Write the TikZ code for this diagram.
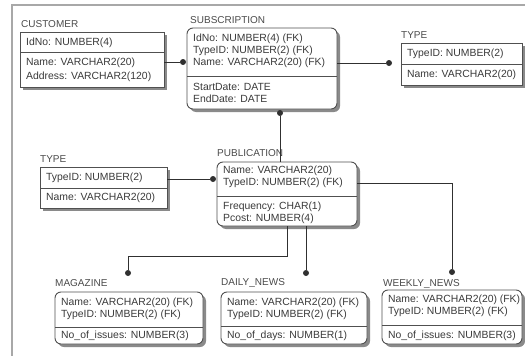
\documentclass[tikz,border=0pt]{standalone}
\usepackage{fontspec}
\usetikzlibrary{shadows}
\newfontfamily\ermfont{Liberation Sans}
\newcommand\fldfont{\ermfont\fontsize{10.4}{12}\selectfont}
\newcommand\ttlfont{\ermfont\fontsize{10}{12}\selectfont}
\definecolor{txtcol}{HTML}{3A3A3A}
\definecolor{labcol}{HTML}{4A4A4A}
\definecolor{boxcol}{HTML}{505050}
\definecolor{shadowcol}{HTML}{8A8A8A}
\definecolor{linecol}{HTML}{303030}
\definecolor{framecol}{HTML}{A8A8A8}
\tikzset{
  ent/.style={draw=boxcol, line width=0.9pt, fill=white, inner sep=0pt, outer sep=0pt,
    anchor=north west,
    drop shadow={shadow xshift=3pt, shadow yshift=-3pt, fill=shadowcol, opacity=1}},
  rent/.style={ent, rounded corners=6pt},
  ttl/.style={anchor=west, inner sep=0pt, text=labcol, font=\ttlfont},
  fld/.style={anchor=west, inner sep=0pt, text=txtcol, font=\fldfont},
  divl/.style={draw=boxcol, line width=0.8pt},
  conn/.style={draw=linecol, line width=0.8pt},
  dotmark/.style={circle, fill=linecol, inner sep=0pt, minimum size=6pt},
  framel/.style={draw=framecol, line width=1.2pt}
}
\begin{document}
\begin{tikzpicture}[x=1pt, y=-1pt]
\useasboundingbox (0,0) rectangle (525,356);
% outer frame
\draw[framel] (525,5) -- (12,5) -- (12,356);

% CUSTOMER
\node[ttl] (cust-t) at (21,24) {CUSTOMER};
\node[ent, minimum width=144pt, minimum height=55pt] (cust) at (20,32) {};
\draw[divl] (cust.west |- 0,52) -- (cust.east |- 0,52);
\node[fld] (cust-1) at (26,43) {IdNo: NUMBER(4)};
\node[fld] (cust-2) at (26,63) {Name: VARCHAR2(20)};
\node[fld] (cust-3) at (26,77) {Address: VARCHAR2(120)};

% SUBSCRIPTION
\node[ttl] (sub-t) at (190,20) {SUBSCRIPTION};
\node[rent, minimum width=150pt, minimum height=81pt] (sub) at (187,28) {};
\draw[divl] (sub.west |- 0,76) -- (sub.east |- 0,76);
\node[fld] (sub-1) at (193,39) {IdNo: NUMBER(4) (FK)};
\node[fld] (sub-2) at (193,51) {TypeID: NUMBER(2) (FK)};
\node[fld] (sub-3) at (193,63) {Name: VARCHAR2(20) (FK)};
\node[fld] (sub-4) at (193,87) {StartDate: DATE};
\node[fld] (sub-5) at (193,99) {EndDate: DATE};

% TYPE (right)
\node[ttl] (typeR-t) at (401,35) {TYPE};
\node[ent, minimum width=121pt, minimum height=42pt] (typeR) at (401,43) {};
\draw[divl] (typeR.west |- 0,64) -- (typeR.east |- 0,64);
\node[fld] (typeR-1) at (407,54) {TypeID: NUMBER(2)};
\node[fld] (typeR-2) at (407,75) {Name: VARCHAR2(20)};

% TYPE (left)
\node[ttl] (typeL-t) at (40,159) {TYPE};
\node[ent, minimum width=127pt, minimum height=41pt] (typeL) at (40,167) {};
\draw[divl] (typeL.west |- 0,188) -- (typeL.east |- 0,188);
\node[fld] (typeL-1) at (46,178) {TypeID: NUMBER(2)};
\node[fld] (typeL-2) at (46,198) {Name: VARCHAR2(20)};

% PUBLICATION
\node[ttl] (pub-t) at (217,153) {PUBLICATION};
\node[rent, minimum width=140pt, minimum height=64pt] (pub) at (217,162) {};
\draw[divl] (pub.west |- 0,196) -- (pub.east |- 0,196);
\node[fld] (pub-1) at (223,171) {Name: VARCHAR2(20)};
\node[fld] (pub-2) at (223,183) {TypeID: NUMBER(2) (FK)};
\node[fld] (pub-3) at (223,207) {Frequency: CHAR(1)};
\node[fld] (pub-4) at (223,219) {Pcost: NUMBER(4)};

% MAGAZINE
\node[ttl] (mag-t) at (55,283) {MAGAZINE};
\node[rent, minimum width=148pt, minimum height=52pt] (mag) at (55,292) {};
\draw[divl] (mag.west |- 0,327) -- (mag.east |- 0,327);
\node[fld] (mag-1) at (61,303) {Name: VARCHAR2(20) (FK)};
\node[fld] (mag-2) at (61,315) {TypeID: NUMBER(2) (FK)};
\node[fld] (mag-3) at (61,336) {No\_of\_issues: NUMBER(3)};

% DAILY_NEWS
\node[ttl] (daily-t) at (221,283) {DAILY\_NEWS};
\node[rent, minimum width=146pt, minimum height=52pt] (daily) at (221,292) {};
\draw[divl] (daily.west |- 0,326) -- (daily.east |- 0,326);
\node[fld] (daily-1) at (227,303) {Name: VARCHAR2(20) (FK)};
\node[fld] (daily-2) at (227,315) {TypeID: NUMBER(2) (FK)};
\node[fld] (daily-3) at (227,336) {No\_of\_days: NUMBER(1)};

% WEEKLY_NEWS
\node[ttl] (weekly-t) at (383,284) {WEEKLY\_NEWS};
\node[rent, minimum width=140pt, minimum height=54pt] (weekly) at (382,290) {};
\draw[divl] (weekly.west |- 0,325) -- (weekly.east |- 0,325);
\node[fld] (weekly-1) at (388,300) {Name: VARCHAR2(20) (FK)};
\node[fld] (weekly-2) at (388,312) {TypeID: NUMBER(2) (FK)};
\node[fld] (weekly-3) at (388,336) {No\_of\_issues: NUMBER(3)};

% relationship end dots
\node[dotmark] (d1) at (183,62) {};
\node[dotmark] (d2) at (389,63) {};
\node[dotmark] (d3) at (280,113) {};
\node[dotmark] (d4) at (213,179) {};
\node[dotmark] (d5) at (128,273) {};
\node[dotmark] (d6) at (306,273) {};
\node[dotmark] (d7) at (452,272) {};

% relationships
\draw[conn] (cust.east |- d1) -- (d1);
\draw[conn] (sub.east |- d2) -- (d2);
\draw[conn] (d3) -- (d3 |- pub.north);
\draw[conn] (typeL.east |- d4) -- (d4);
\draw[conn] (pub.south) -- ++(0,30) -| (d5);
\draw[conn] (pub.south -| d6) -- (d6);
\draw[conn] (pub.east |- pub-2) -| (d7);
\end{tikzpicture}
\end{document}
